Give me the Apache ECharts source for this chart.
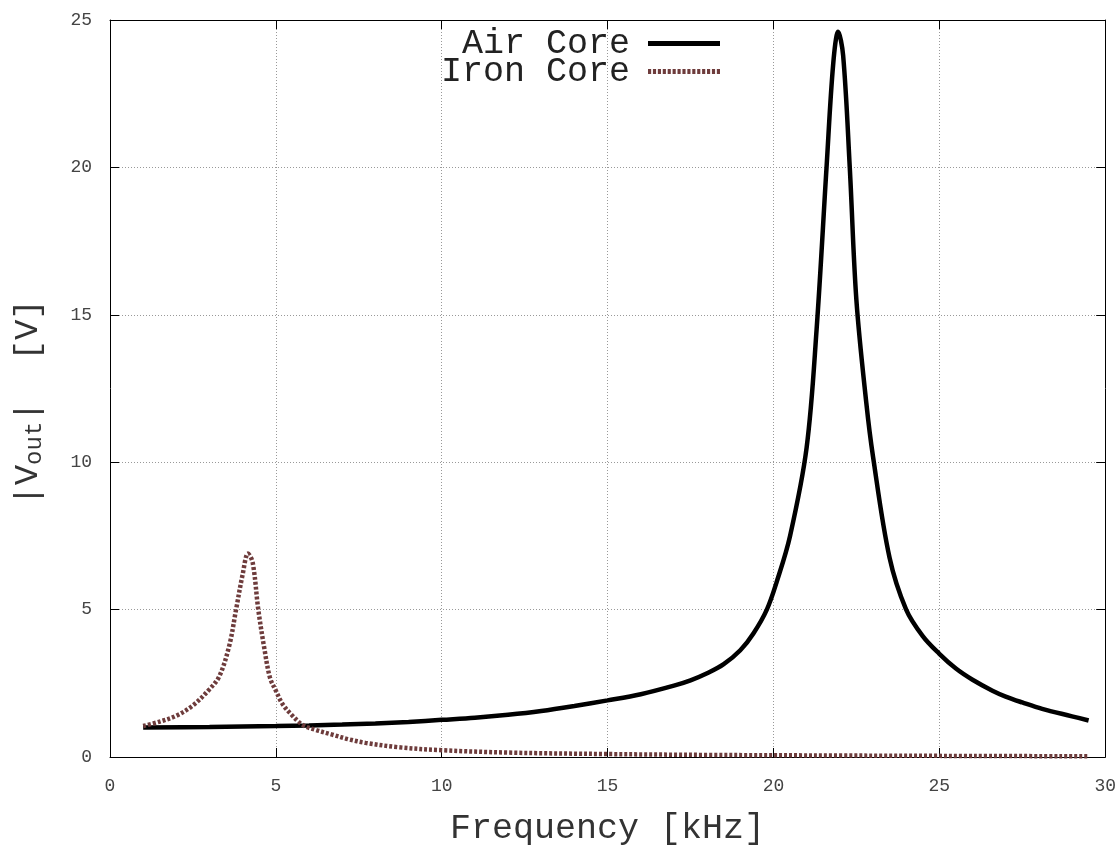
<!DOCTYPE html>
<html>
<head>
<meta charset="utf-8">
<script src="https://cdn.jsdelivr.net/npm/echarts@6/dist/echarts.min.js"></script>
<style>html,body{margin:0;padding:0;background:#fff}#c{width:1119px;height:851px}</style>
</head>
<body>
<div id="c"></div>
<script>
// Frequency [kHz], |Vout| [V]
const airCore = [[1,1.0],[3,1.02],[5,1.05],[6,1.07],[7,1.1],[8,1.14],[9,1.19],[10,1.26],[11,1.33],[12,1.43],[13,1.56],[14,1.73],[15,1.92],[16,2.13],[17,2.42],[17.5,2.6],[18,2.84],[18.5,3.15],[19,3.62],[19.4,4.2],[19.8,5.0],[20.1,5.95],[20.5,7.5],[21,10.5],[21.3,14.5],[21.6,20],[21.8,23.5],[21.95,24.6],[22.1,23.8],[22.3,20],[22.5,15.5],[22.8,12],[23,10.2],[23.5,6.76],[24,5.0],[24.5,4.1],[25,3.5],[25.5,3.0],[26,2.62],[26.6,2.25],[27,2.05],[27.5,1.85],[28.1,1.63],[29,1.38],[29.5,1.24]];
const ironCore = [[1,1.05],[1.5,1.2],[2,1.4],[2.5,1.75],[3,2.3],[3.3,2.75],[3.6,3.8],[3.8,5.0],[4.0,6.2],[4.16,6.9],[4.3,6.6],[4.47,5.0],[4.65,3.7],[4.82,2.7],[5.0,2.25],[5.2,1.8],[5.5,1.4],[5.82,1.08],[6.2,0.92],[6.7,0.76],[7.2,0.6],[7.7,0.48],[8.7,0.33],[10,0.23],[12,0.15],[15,0.1],[18,0.07],[22,0.05],[26,0.035],[29.5,0.025]];
const seriesNames = ['Air Core','Iron Core'];
const xTitle = 'Frequency [kHz]';

const FONT = 'Liberation Mono, Courier New, monospace';
const chart = echarts.init(document.getElementById('c'));
const gridLine = {show:true, lineStyle:{color:'#999', type:[1,2], width:1}};
const tickIn = {show:true, inside:true, length:9, lineStyle:{color:'#000', width:1}};
// legend sample glyphs: solid bar and a row of short dashes
let dashPath = '';
for (let i = 0; i < 15; i++) dashPath += 'M' + (i*5) + ',0h3.2v5h-3.2z';
chart.setOption({
  backgroundColor:'#fff',
  animation:false,
  grid:{left:110, right:13, top:20, bottom:91, show:false},
  legend:{
    data:[{name:seriesNames[0], icon:'rect'},{name:seriesNames[1], icon:'path://' + dashPath}],
    orient:'vertical', align:'right', right:394, top:21,
    itemWidth:72, itemHeight:5, itemGap:-7,
    textStyle:{fontFamily:FONT, fontSize:35, color:'#222', lineHeight:28, padding:[0,13,0,0]}
  },
  xAxis:[{
    type:'value', min:0, max:30, interval:5, position:'bottom',
    name:xTitle, nameLocation:'middle', nameGap:54,
    nameTextStyle:{fontFamily:FONT, fontSize:35, color:'#333'},
    axisLine:{show:true, onZero:false, lineStyle:{color:'#000', width:1}},
    axisTick:tickIn, splitLine:gridLine,
    axisLabel:{fontFamily:FONT, fontSize:18, color:'#444', margin:20}
  },{
    type:'value', min:0, max:30, interval:5, position:'top',
    axisLine:{show:true, onZero:false, lineStyle:{color:'#000', width:1}},
    axisTick:tickIn, splitLine:{show:false}, axisLabel:{show:false}
  }],
  yAxis:[{
    type:'value', min:0, max:25, interval:5, position:'left',
    name:'{a||V}{s|out}{a||  [V]}', nameLocation:'middle', nameGap:62, nameRotate:90,
    nameTextStyle:{fontFamily:FONT, color:'#333', padding:[0,28,0,0], rich:{
      a:{fontFamily:FONT, fontSize:34, color:'#333', lineHeight:40},
      s:{fontFamily:FONT, fontSize:24, color:'#333', lineHeight:24, padding:[14,0,0,0]}
    }},
    axisLine:{show:true, onZero:false, lineStyle:{color:'#000', width:1}},
    axisTick:tickIn, splitLine:gridLine,
    axisLabel:{fontFamily:FONT, fontSize:18, color:'#444', margin:18}
  },{
    type:'value', min:0, max:25, interval:5, position:'right',
    axisLine:{show:true, onZero:false, lineStyle:{color:'#000', width:1}},
    axisTick:tickIn, splitLine:{show:false}, axisLabel:{show:false}
  }],
  series:[{
    name:seriesNames[0], type:'line', data:airCore, symbol:'none', smooth:0.35,
    lineStyle:{color:'#000', width:4.5}, itemStyle:{color:'#000'}
  },{
    name:seriesNames[1], type:'line', data:ironCore, symbol:'none', smooth:0.35,
    lineStyle:{color:'#6e3c3c', width:4.5, type:[3,2]}, itemStyle:{color:'#6e3c3c'}
  }]
});
</script>
</body>
</html>
